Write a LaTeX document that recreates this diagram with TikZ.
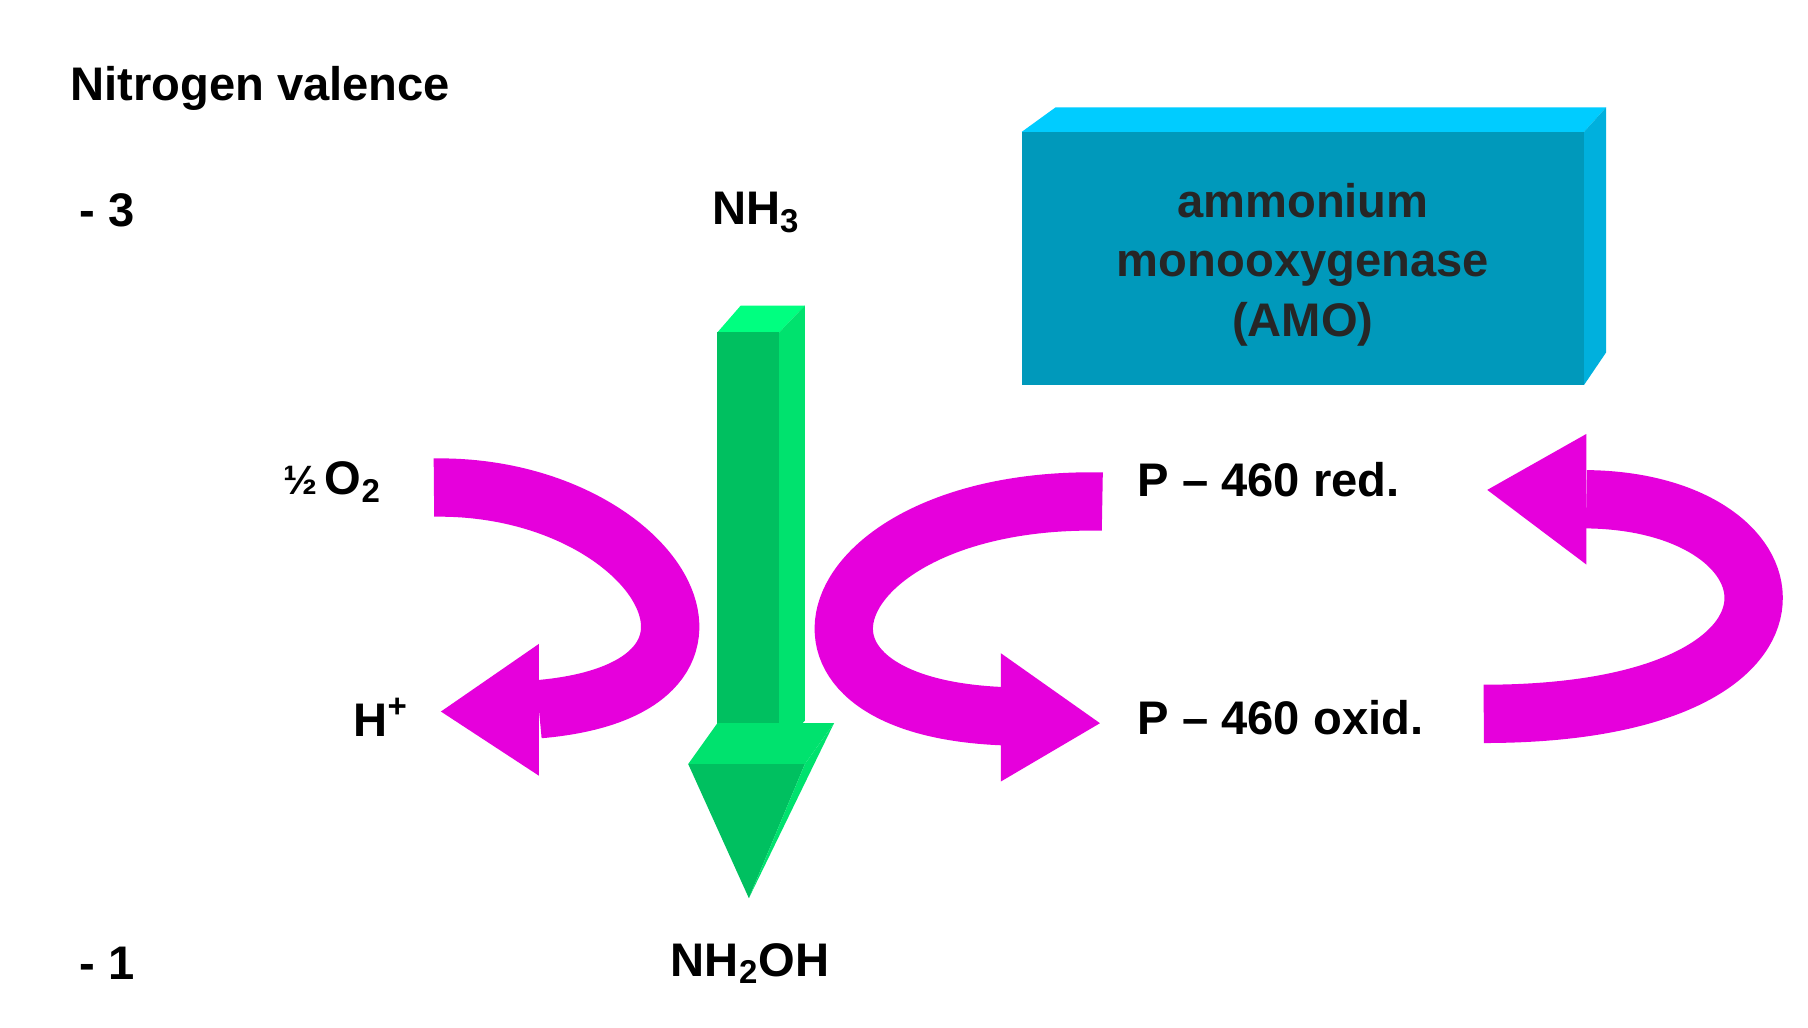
\documentclass[tikz,border=0pt]{standalone}
\usepackage{fontspec}
\setmainfont{Liberation Sans}
\definecolor{amotop}{RGB}{0,204,255}
\definecolor{amoside}{RGB}{0,176,221}
\definecolor{amofront}{RGB}{0,153,187}
\definecolor{glight}{RGB}{0,255,128}
\definecolor{gmid}{RGB}{0,226,110}
\definecolor{gdark}{RGB}{0,192,96}
\definecolor{mag}{RGB}{230,0,220}
\begin{document}
\begin{tikzpicture}[x=0.02cm,y=-0.02cm,
  lbl/.style={font=\bfseries\fontsize{23}{27}\selectfont,inner sep=0pt},
  band/.style={draw=mag,line width=1cm},
  head/.style={fill=mag}]
\useasboundingbox[fill=white] (0,0) rectangle (1550,881);
% labels
\node[lbl,anchor=west] (nv) at (60,76) {Nitrogen valence};
\node[lbl,anchor=west] (m3) at (68,180) {- 3};
\node[lbl,anchor=west] (m1) at (68,826) {- 1};
\node[lbl] (nh3) at (648,182) {NH\textsubscript{3}};
\node[lbl] (nh2oh) at (643,826) {NH\textsubscript{2}OH};
\node[lbl,anchor=east] (o2) at (327,413) {\fontsize{20}{24}\selectfont½\,\fontsize{23}{27}\selectfont O\textsubscript{2}};
\node[lbl,anchor=east] (hp) at (350,615) {H\textsuperscript{+}};
\node[lbl,anchor=west] (pred) at (975,411) {P -- 460 red.};
\node[lbl,anchor=west] (pox) at (975,615) {P -- 460 oxid.};
% AMO box
\fill[amotop] (876,113) -- (905,92) -- (1377,92) -- (1358,113) -- cycle;
\fill[amoside] (1358,113) -- (1377,92) -- (1377,302) -- (1358,330) -- cycle;
\fill[amofront] (876,113) rectangle (1358,330);
\node[lbl,align=center,text=black!85] (amo) at (1117,227) {ammonium\\[2pt]monooxygenase\\[2pt](AMO)};
% magenta arrows
\draw[band] (372,418) .. controls (560,415) and (670,590) .. (462,608);
\fill[head] (462,552) -- (378,610) -- (462,665) -- cycle;
\draw[band] (945,430) .. controls (705,425) and (635,605) .. (860,614);
\fill[head] (858,560) -- (943,620) -- (858,670) -- cycle;
\draw[band] (1272,612) .. controls (1580,612) and (1550,430) .. (1360,428);
\fill[head] (1360,372) -- (1275,420) -- (1360,484) -- cycle;
% green arrow
\fill[glight] (615,285) -- (635,262) -- (690,262) -- (668,285) -- cycle;
\fill[gmid] (668,285) -- (690,262) -- (690,618) -- (668,640) -- cycle;
\fill[gdark] (615,285) rectangle (668,640);
\fill[gmid] (590,655) -- (615,620) -- (715,620) -- (690,655) -- cycle;
\fill[gdark] (590,655) -- (690,655) -- (642,770) -- cycle;
\fill[gmid] (690,655) -- (715,620) -- (642,770) -- cycle;
\end{tikzpicture}
\end{document}
